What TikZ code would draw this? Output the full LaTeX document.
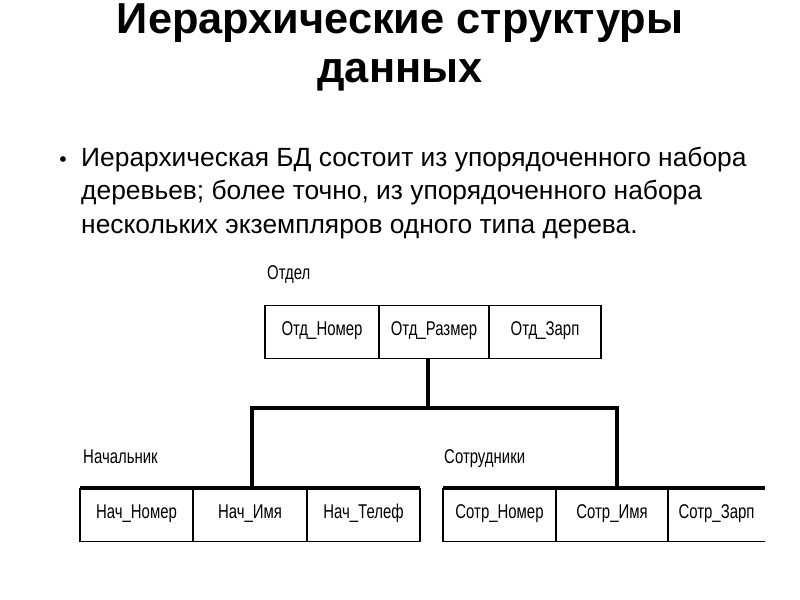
\documentclass[tikz,border=0pt]{standalone}
\usepackage{fontspec}
\setmainfont{Liberation Sans}
\newfontfamily\narrowfont[FakeStretch=0.75]{Liberation Sans}
\usetikzlibrary{positioning}
\tikzstyle{cell} = [rectangle, minimum height=1.6cm, text height=0.72em, text depth=0.2em, inner sep=0pt, outer sep=0pt, draw=black, line width=1.4pt, font=\narrowfont\fontsize{17}{19}\selectfont]
\tikzstyle{tablename} = [anchor=base west, inner sep=0pt, font=\narrowfont\fontsize{17}{19}\selectfont]
\tikzstyle{link} = [line width=3.4pt]

\begin{document}
\begin{tikzpicture}[x=0.03cm, y=-0.03cm]
\useasboundingbox (0,0) rectangle (800,600);
\node (T) [anchor=north, inner sep=0pt, align=center, font=\bfseries\fontsize{37}{41.7}\selectfont] at (400,3.5) {Иерархические структуры\\данных};
\node (B) [font=\fontsize{18}{20}\selectfont] at (63,162) {•};
\node (P) [anchor=north west, inner sep=0pt, align=left, font=\fontsize{22.5}{28.5}\selectfont] at (81,147) {Иерархическая БД состоит из упорядоченного набора\\деревьев; более точно, из упорядоченного набора\\нескольких экземпляров одного типа дерева.};
% Отдел
\node (Lo) [tablename] at (267,280) {Отдел};
\node (O1) [cell, minimum width=3.42cm] at (322,332) {Отд\_Номер};
\node (O2) [cell, minimum width=3.3cm, right=0pt of O1] {Отд\_Размер};
\node (O3) [cell, minimum width=3.36cm, right=0pt of O2] {Отд\_Зарп};
% Начальник
\node (Ln) [tablename] at (83,464) {Начальник};
\node (N1) [cell, minimum width=3.39cm] at (136.5,515) {Нач\_Номер};
\node (N2) [cell, minimum width=3.42cm, right=0pt of N1] {Нач\_Имя};
\node (N3) [cell, minimum width=3.39cm, right=0pt of N2] {Нач\_Телеф};
% Сотрудники
\node (Ls) [tablename] at (444,464) {Сотрудники};
\node (S1) [cell, minimum width=3.39cm] at (499.5,515) {Сотр\_Номер};
\node (S2) [cell, minimum width=3.36cm, right=0pt of S1] {Сотр\_Имя};
\node (S3) [cell, draw=none, minimum width=2.91cm, right=0pt of S2] {Сотр\_Зарп};
\draw [line width=1.4pt] (S3.north west) -- (S3.north east);
\draw [line width=1.4pt] (S3.south west) -- (S3.south east);
\draw [link] (N1.north west) -- (N3.north east);
\draw [link] (S1.north west) -- (S3.north east);
% connectors
\coordinate (bar) at (0,408);
\draw [link] ([xshift=-0.18cm]O2.south) -- ([xshift=-0.18cm]O2.south |- bar);
\draw [link] ([xshift=0.06cm]N2.north) -- ([xshift=0.06cm]N2.north |- bar) -- ([xshift=0.15cm]S2.north |- bar) -- ([xshift=0.15cm]S2.north);
\end{tikzpicture}
\end{document}
